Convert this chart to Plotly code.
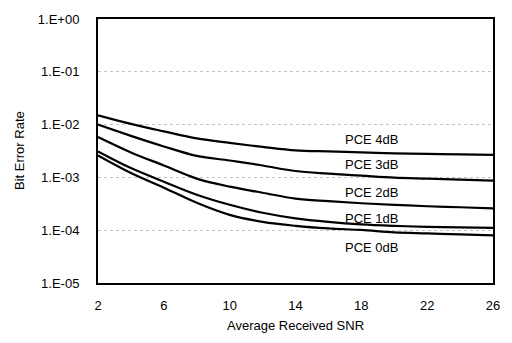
import plotly.graph_objects as go

snr = [2, 4, 6, 8, 10, 12, 14, 16, 18, 20, 22, 24, 26]
ber_4db = [1.50e-2, 1.03e-2, 7.45e-3, 5.48e-3, 4.50e-3, 3.78e-3, 3.24e-3, 3.10e-3, 2.97e-3, 2.84e-3, 2.78e-3, 2.72e-3, 2.68e-3]
ber_3db = [1.00e-2, 6.12e-3, 3.86e-3, 2.55e-3, 2.09e-3, 1.68e-3, 1.32e-3, 1.18e-3, 1.08e-3, 9.9e-4, 9.5e-4, 9.1e-4, 8.7e-4]
ber_2db = [5.81e-3, 2.97e-3, 1.68e-3, 9.5e-4, 6.68e-4, 5.13e-4, 3.95e-4, 3.54e-4, 3.24e-4, 3.03e-4, 2.84e-4, 2.72e-4, 2.58e-4]
ber_1db = [3.10e-3, 1.50e-3, 8.3e-4, 4.7e-4, 3.03e-4, 2.14e-4, 1.68e-4, 1.44e-4, 1.29e-4, 1.21e-4, 1.16e-4, 1.13e-4, 1.11e-4]
ber_0db = [2.60e-3, 1.21e-3, 6.4e-4, 3.3e-4, 1.95e-4, 1.44e-4, 1.21e-4, 1.08e-4, 1.01e-4, 9.1e-5, 8.7e-5, 8.3e-5, 8.0e-5]

series = [("PCE 4dB", ber_4db), ("PCE 3dB", ber_3db), ("PCE 2dB", ber_2db),
          ("PCE 1dB", ber_1db), ("PCE 0dB", ber_0db)]
label_x = 18.6
label_log_y = [-2.28, -2.756, -3.28, -3.78, -4.32]

y_tickvals = [1, 1e-1, 1e-2, 1e-3, 1e-4, 1e-5]
y_ticktext = ["1.E+00", "1.E-01", "1.E-02", "1.E-03", "1.E-04", "1.E-05"]
x_tickvals = [2, 6, 10, 14, 18, 22, 26]

fig = go.Figure()
for name, vals in series:
    fig.add_trace(go.Scatter(x=snr, y=vals, mode="lines", name=name,
                             line=dict(color="black", width=2.2, shape="spline", smoothing=1.0),
                             showlegend=False))

for (name, _), ly in zip(series, label_log_y):
    fig.add_annotation(x=label_x, y=ly, yref="y", xref="x", text=name,
                       showarrow=False, font=dict(size=13, color="black"))

fig.add_annotation(text="Bit Error Rate", xref="paper", yref="paper",
                   x=-0.2, y=0.5, xanchor="center", yanchor="middle",
                   textangle=-90, showarrow=False, font=dict(size=13, color="black"))

fig.update_layout(
    width=512, height=343,
    margin=dict(l=98, r=13, t=16, b=59),
    paper_bgcolor="white", plot_bgcolor="white",
    font=dict(family="Liberation Sans, Arial, sans-serif", color="black", size=13),
)
fig.update_xaxes(range=[2, 26], tickvals=x_tickvals, showgrid=False,
                 showline=True, linecolor="black", linewidth=2, mirror=True,
                 ticks="", zeroline=False, ticklabelstandoff=9,
                 title=dict(text="Average Received SNR", font=dict(size=13), standoff=9),
                 tickfont=dict(size=13))
fig.update_yaxes(type="log", range=[-5, 0], tickvals=y_tickvals, ticktext=y_ticktext,
                 showgrid=True, gridcolor="#c4c4c4", griddash="dot", gridwidth=1,
                 showline=True, linecolor="black", linewidth=2, mirror=True,
                 ticks="", zeroline=False, ticklabelstandoff=14,
                 tickfont=dict(size=13))

fig.write_html("out.html")
